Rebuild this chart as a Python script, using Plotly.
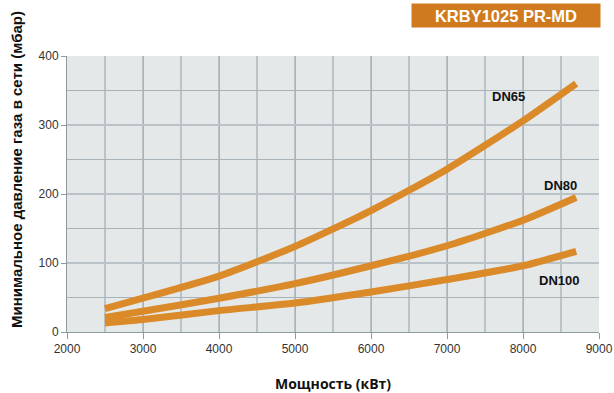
import plotly.graph_objects as go

# Burner capacity (kW) and minimum gas supply pressure (mbar) per valve size
power_kw = [2500, 3000, 4000, 5000, 6000, 7000, 8000, 8700]
dn65 = [34, 49, 81, 124, 176, 236, 306, 360]
dn80 = [21, 30, 49, 70, 96, 125, 162, 195]
dn100 = [13, 18, 31, 42, 58, 76, 96, 117]

series_names = ["DN65", "DN80", "DN100"]
label_x = [7810, 8490, 8470]
label_y = [341, 212, 75]

x_ticks = [2000, 3000, 4000, 5000, 6000, 7000, 8000, 9000]
y_ticks = [0, 100, 200, 300, 400]

curve_color = "#db8a2a"
grid_color = "#a7b3b9"

fig = go.Figure()
for name, vals in zip(series_names, [dn65, dn80, dn100]):
    fig.add_trace(go.Scatter(
        x=power_kw, y=vals, mode="lines", name=name,
        line=dict(color=curve_color, width=7, shape="spline", smoothing=0.6),
        showlegend=False,
    ))

for name, lx, ly in zip(series_names, label_x, label_y):
    fig.add_annotation(
        x=lx, y=ly, text=f"<b>{name}</b>", showarrow=False,
        font=dict(family="Liberation Sans, Arial, sans-serif", size=13, color="#111111"),
    )

# Model badge in the top-right corner
fig.add_annotation(
    xref="paper", yref="paper", x=1.0, y=1.0, yshift=28, xshift=2,
    xanchor="right", yanchor="bottom",
    text="<b>KRBY1025 PR-MD</b>", showarrow=False,
    bgcolor="#d07a1f", borderpad=3, width=182, height=17,
    font=dict(family="Liberation Sans, Arial, sans-serif", size=16.5, color="white"),
)

# Vertical axis caption, placed a little above the plot centre
fig.add_annotation(
    xref="paper", yref="paper", x=0, y=0.587, xshift=-50, textangle=-90,
    xanchor="center", yanchor="middle", showarrow=False,
    text="<b>Минимальное давление газа в сети (мбар)</b>",
    font=dict(family="Liberation Sans, Arial, sans-serif", size=15, color="#111111"),
)

fig.update_layout(
    width=614, height=393,
    margin=dict(l=67, r=15, t=56, b=61),
    paper_bgcolor="white",
    plot_bgcolor="#e4e8e9",
    font=dict(family="Liberation Sans, Arial, sans-serif", size=12, color="#333333"),
)

fig.update_xaxes(
    range=[2000, 9000], tickvals=x_ticks, automargin=False,
    showgrid=True, gridcolor=grid_color, gridwidth=1.3,
    minor=dict(dtick=500, showgrid=True, gridcolor="#b9c3c8", gridwidth=1.6, ticks=""),
    showline=True, linecolor="#8e9aa0", linewidth=1,
    ticks="outside", ticklen=6, tickcolor="#8e9aa0",
    zeroline=False,
    title=dict(text="<b>Мощность (кВт)</b>", standoff=28,
               font=dict(family="Open Sans, sans-serif", size=14, color="#111111")),
)
fig.update_yaxes(
    range=[0, 400], tickvals=y_ticks, automargin=False,
    showgrid=True, gridcolor="#b9c3c8", gridwidth=1.6,
    minor=dict(dtick=50, showgrid=True, gridcolor=grid_color, gridwidth=1.3, ticks=""),
    showline=True, linecolor="#8e9aa0", linewidth=1,
    ticks="outside", ticklen=5, tickcolor="#8e9aa0",
    zeroline=False,
)

fig.write_html("out.html")
